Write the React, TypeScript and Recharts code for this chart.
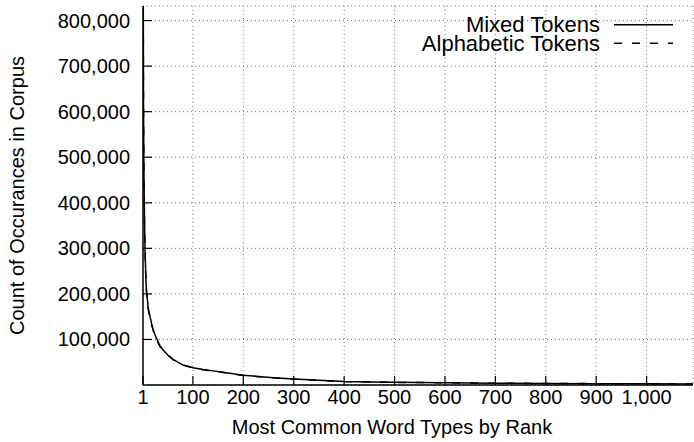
import { LineChart, Line, XAxis, YAxis, CartesianGrid, Legend } from "recharts";

// word rank (x) and number of occurrences (y)
const ranks = [
  1, 2, 3, 4, 5, 6, 7, 8, 9, 10, 11, 13, 15, 18, 21, 24, 27, 29, 32, 35, 40,
  45, 50, 55, 60, 70, 80, 90, 100, 120, 140, 160, 180, 200, 230, 260, 300, 350,
  400, 450, 500, 600, 700, 800, 900, 1000, 1092,
];
const mixedCounts = [
  1100000, 620000, 450000, 360000, 300000, 260000, 225000, 205000, 195000,
  185000, 172000, 160000, 150000, 135000, 122000, 113000, 104000, 100000, 92000,
  86000, 78000, 72000, 66000, 61000, 57000, 50000, 44000, 41000, 38000, 34000,
  31000, 28000, 24500, 21500, 18500, 16000, 13000, 10500, 7800, 6800, 5900,
  4900, 4100, 3500, 3000, 2600, 2300,
];
const alphabeticCounts = [
  1080000, 600000, 440000, 352000, 294000, 255000, 222000, 203000, 190000,
  180000, 168000, 156000, 146000, 132000, 121000, 110000, 102000, 97000, 90000,
  84000, 79000, 71000, 65000, 62000, 56000, 49000, 44000, 40500, 37500, 33500,
  30500, 27500, 24000, 21000, 18200, 15800, 12800, 10300, 7700, 6700, 5800,
  4800, 4000, 3400, 2950, 2550, 2250,
];
const seriesNames = ["Mixed Tokens", "Alphabetic Tokens"];
const rankTicks = [1, 100, 200, 300, 400, 500, 600, 700, 800, 900, 1000];
const countTicks = [
  100000, 200000, 300000, 400000, 500000, 600000, 700000, 800000,
];

const FONT = "'Liberation Sans', Arial, Helvetica, sans-serif";
const fmt = (v: number) => v.toLocaleString("en-US");

const data = ranks.map((rank, i) => ({
  rank,
  mixed: mixedCounts[i],
  alphabetic: alphabeticCounts[i],
}));

// tick mark pointing into the plot plus the label underneath
function RankTick({ x, y, payload }: any) {
  return (
    <g>
      <line x1={x} y1={y} x2={x} y2={y - 9} stroke="#000" strokeWidth={1.2} />
      <text
        x={x}
        y={y + 19}
        textAnchor="middle"
        fontSize={20}
        fontFamily={FONT}
        fill="#000"
      >
        {fmt(payload.value)}
      </text>
    </g>
  );
}

function CountTick({ x, y, payload }: any) {
  return (
    <g>
      <line x1={x} y1={y} x2={x + 9} y2={y} stroke="#000" strokeWidth={1.2} />
      <text
        x={x - 13}
        y={y + 7}
        textAnchor="end"
        fontSize={20}
        fontFamily={FONT}
        fill="#000"
      >
        {fmt(payload.value)}
      </text>
    </g>
  );
}

// gnuplot-style key: right-aligned names with the line sample after them
function KeyBox({ payload }: any) {
  const items = [...(payload || [])].sort(
    (a: any, b: any) => seriesNames.indexOf(a.value) - seriesNames.indexOf(b.value)
  );
  return (
    <svg width={694} height={60}>
      {items.map((entry: any, i: number) => {
        const cy = 24.7 + i * 18.6;
        return (
          <g key={entry.value}>
            <text
              x={600}
              y={cy + 7.5}
              textAnchor="end"
              fontSize={22}
              fontFamily={FONT}
              fill="#000"
            >
              {entry.value}
            </text>
            <line
              x1={614}
              y1={cy}
              x2={673}
              y2={cy}
              stroke="#000"
              strokeWidth={1.5}
              strokeDasharray={i === 1 ? "8 10" : undefined}
            />
          </g>
        );
      })}
    </svg>
  );
}

const border = { stroke: "#000", strokeWidth: 1.5 };

export default function App() {
  return (
    <div style={{ position: "absolute", left: 0, top: 0 }}>
      <LineChart
        width={694}
        height={442}
        data={data}
        margin={{ top: 6, right: 1, bottom: 0, left: 0 }}
        style={{ background: "#fff" }}
      >
        <CartesianGrid
          xAxisId="x"
          yAxisId="y"
          stroke="#777"
          strokeDasharray="1 3"
        />
        <XAxis
          xAxisId="x"
          dataKey="rank"
          type="number"
          domain={[1, 1092]}
          ticks={rankTicks}
          allowDataOverflow
          height={57}
          tickSize={0}
          tickMargin={0}
          tickLine={false}
          axisLine={border}
          tick={<RankTick />}
          label={{
            value: "Most Common Word Types by Rank",
            position: "insideBottom",
            offset: 8,
            dx: -26,
            fontSize: 20,
            fontFamily: FONT,
            fill: "#000",
          }}
        />
        <XAxis
          xAxisId="top"
          orientation="top"
          dataKey="rank"
          type="number"
          domain={[1, 1092]}
          ticks={rankTicks}
          allowDataOverflow
          height={0}
          mirror
          tick={false}
          tickSize={9}
          tickLine={{ stroke: "#000", strokeWidth: 1.2 }}
          axisLine={border}
        />
        <YAxis
          yAxisId="y"
          type="number"
          domain={[0, 832000]}
          ticks={countTicks}
          allowDataOverflow
          width={143}
          tickSize={0}
          tickMargin={0}
          tickLine={false}
          axisLine={border}
          tick={<CountTick />}
          label={{
            value: "Count of Occurances in Corpus",
            angle: -90,
            position: "insideLeft",
            offset: 17,
            fontSize: 20,
            fontFamily: FONT,
            fill: "#000",
            style: { textAnchor: "middle" },
          }}
        />
        <YAxis
          yAxisId="right"
          orientation="right"
          type="number"
          domain={[0, 832000]}
          ticks={countTicks}
          allowDataOverflow
          width={0}
          mirror
          tick={false}
          tickSize={9}
          tickLine={{ stroke: "#000", strokeWidth: 1.2 }}
          axisLine={border}
        />
        <Legend
          layout="vertical"
          align="center"
          verticalAlign="middle"
          content={<KeyBox />}
          wrapperStyle={{ left: 0, top: 0, width: 694, height: 60 }}
        />
        <Line
          xAxisId="x"
          yAxisId="y"
          type="linear"
          dataKey="mixed"
          name="Mixed Tokens"
          stroke="#000"
          strokeWidth={1.5}
          dot={false}
          isAnimationActive={false}
        />
        <Line
          xAxisId="x"
          yAxisId="y"
          type="linear"
          dataKey="alphabetic"
          name="Alphabetic Tokens"
          stroke="#000"
          strokeWidth={1.5}
          strokeDasharray="8 10"
          dot={false}
          isAnimationActive={false}
        />
      </LineChart>
    </div>
  );
}
